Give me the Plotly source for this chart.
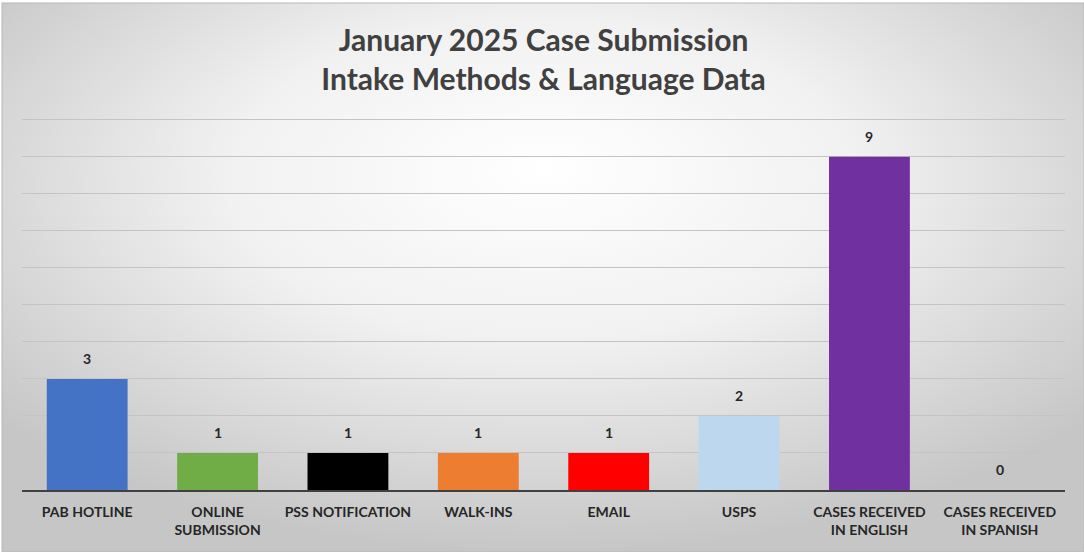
import base64
import plotly.graph_objects as go

categories = ["PAB HOTLINE", "ONLINE<br>SUBMISSION", "PSS NOTIFICATION", "WALK-INS", "EMAIL",
              "USPS", "CASES RECEIVED<br>IN ENGLISH", "CASES RECEIVED<br>IN SPANISH"]
values = [3, 1, 1, 1, 1, 2, 9, 0]
colors = ["#4472C4", "#70AD47", "#000000", "#ED7D31", "#FF0000", "#BDD7EE", "#7030A0", "#A5A5A5"]
title_text = "January 2025 Case Submission<br>Intake Methods & Language Data"

W, H = 1084, 552
ML, MR, MT, MB = 22, 19, 118, 62

svg = f'''<svg xmlns="http://www.w3.org/2000/svg" width="{W}" height="{H}" viewBox="0 0 {W} {H}">
<defs><radialGradient id="g" cx="50%" cy="35%" r="65%" fx="50%" fy="30%">
<stop offset="0" stop-color="#ffffff"/><stop offset="0.45" stop-color="#f1f1f1"/><stop offset="1" stop-color="#c6c6c6"/>
</radialGradient></defs>
<rect x="0" y="0" width="{W}" height="{H}" fill="#ffffff"/>
<rect x="2" y="3" width="{W-2}" height="{H-3}" fill="url(#g)" stroke="#b8b8b8" stroke-width="1"/>
</svg>'''
src = "data:image/svg+xml;base64," + base64.b64encode(svg.encode()).decode()

pw = W - ML - MR
ph = H - MT - MB

FONT = "Lato, Calibri, sans-serif"

fig = go.Figure(go.Bar(
    x=categories, y=values, marker=dict(color=colors, line=dict(width=0)),
    hoverinfo="x+y",
))

for c, v in zip(categories, values):
    fig.add_annotation(x=c, y=v, text=f"<b>{v}</b>", showarrow=False,
                       yanchor="bottom", yshift=10,
                       font=dict(family=FONT, size=14, color="#262626"))

fig.update_layout(
    width=W, height=H,
    margin=dict(l=ML, r=MR, t=MT, b=MB),
    paper_bgcolor="rgba(0,0,0,0)", plot_bgcolor="rgba(0,0,0,0)",
    bargap=0.38, showlegend=False,
    title=dict(text=f"<b>{title_text}</b>", x=0.5, xanchor="center", xref="paper",
               y=1 - 51 / H, yanchor="middle", yref="container",
               font=dict(family=FONT, size=30, color="#404040")),
    images=[dict(source=src, xref="paper", yref="paper",
                 x=-ML / pw, y=1 + MT / ph, sizex=W / pw, sizey=H / ph,
                 xanchor="left", yanchor="top", sizing="stretch", layer="below")],
    xaxis=dict(showline=True, linecolor="#404040", linewidth=2, ticks="",
               ticklabelstandoff=8,
               tickvals=categories,
               ticktext=[f"<b>{c}</b>" for c in categories],
               tickfont=dict(family=FONT, size=14, color="#262626"),
               showgrid=False),
    yaxis=dict(range=[0, 10.05], dtick=1, showticklabels=False, showgrid=True,
               gridcolor="#c4c4c4", gridwidth=1, zeroline=False, showline=False),
)

fig.write_html("out.html", config={"displayModeBar": False},
               post_script="document.body.style.margin='0';document.body.style.overflow='hidden';")
